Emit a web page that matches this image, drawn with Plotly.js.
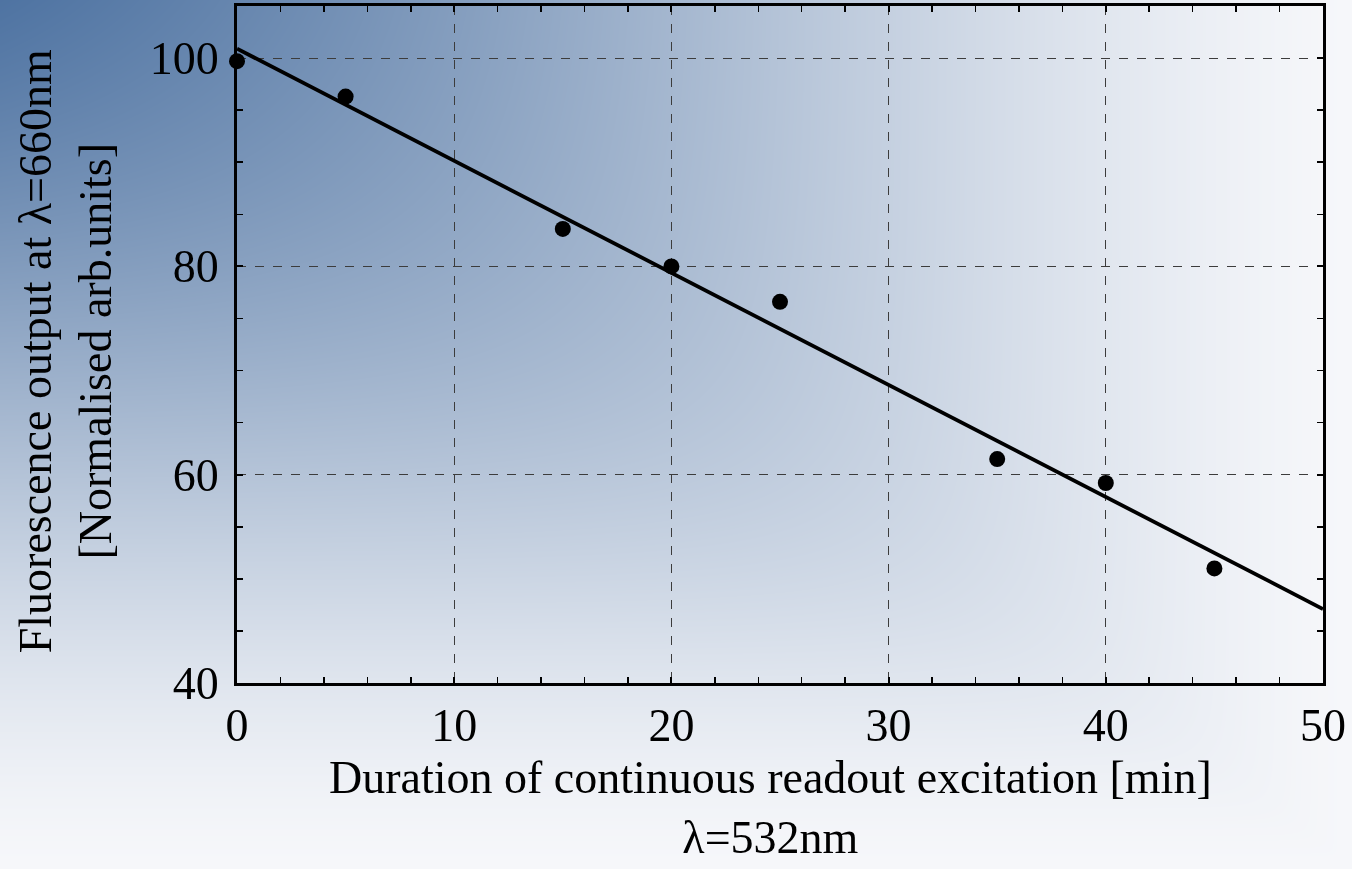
<!DOCTYPE html>
<html>
<head>
<meta charset="utf-8">
<script src="https://cdn.plot.ly/plotly-3.0.1.min.js"></script>
<style>
  html, body { margin:0; padding:0; background:#f6f7fa; }
  #wrap { position:relative; width:1352px; height:869px; overflow:hidden; }
  #bg { position:absolute; left:0; top:0; }
  #chart { position:absolute; left:0; top:0; width:1352px; height:869px; }
</style>
</head>
<body>
<div id="wrap">
  <canvas id="bg" width="1352" height="869"></canvas>
  <div id="chart"></div>
</div>
<script>
// ---- data ----
const durationMin = [0, 5, 15, 20, 25, 35, 40, 45];
const fluorescence = [99.7, 96.3, 83.6, 80.0, 76.6, 61.5, 59.2, 51.0];
const fitX = [0, 50];
const fitY = [100.9, 47.1];
const xTickVals = [0, 10, 20, 30, 40, 50];
const yTickVals = [40, 60, 80, 100];
const xTitle = "Duration of continuous readout excitation [min]<br>λ=532nm";
const yTitle = "Fluorescence output at λ=660nm<br>[Normalised arb.units]";

// ---- decorative background gradient (style only) ----
(function drawBg(){
  const cv = document.getElementById('bg');
  const ctx = cv.getContext('2d');
  const W = cv.width, H = cv.height;
  const img = ctx.createImageData(W, H);
  const light = [246, 247, 250];
  const blue = [35, 81, 139];
  const p = 3;
  for (let y = 0; y < H; y++) {
    const fy = Math.max(1e-4, Math.pow(1 - y / H, 1.45));
    for (let x = 0; x < W; x++) {
      const fx = Math.max(1e-4, Math.pow(1 - x / W, 1.35));
      const w = Math.pow(Math.pow(fx, -p) + Math.pow(fy, -p), -1 / p);
      const i = (y * W + x) * 4;
      img.data[i]   = light[0] + w * (blue[0] - light[0]);
      img.data[i+1] = light[1] + w * (blue[1] - light[1]);
      img.data[i+2] = light[2] + w * (blue[2] - light[2]);
      img.data[i+3] = 255;
    }
  }
  ctx.putImageData(img, 0, 0);
})();

const FONT = 'Liberation Serif, Times New Roman, serif';

const traces = [
  {
    x: fitX, y: fitY, type: 'scatter', mode: 'lines',
    line: { color: '#000', width: 3.8 }, hoverinfo: 'skip', showlegend: false
  },
  {
    x: durationMin, y: fluorescence, type: 'scatter', mode: 'markers',
    marker: { color: '#000', size: 16 }, showlegend: false, cliponaxis: false
  }
];

const axisCommon = {
  showline: true, linecolor: '#000', linewidth: 3, mirror: 'ticks',
  ticks: 'inside', ticklen: 6, tickwidth: 2, tickcolor: '#000',
  showgrid: true, gridcolor: '#3c3c3c', gridwidth: 1, griddash: 'dash',
  zeroline: false,
  tickfont: { family: FONT, size: 46, color: '#000' }
};

const layout = {
  width: 1352, height: 869,
  margin: { l: 237, r: 29, t: 6, b: 186 },
  paper_bgcolor: 'rgba(0,0,0,0)',
  plot_bgcolor: 'rgba(0,0,0,0)',
  showlegend: false,
  xaxis: Object.assign({}, axisCommon, {
    range: [0, 50], tickvals: xTickVals,
    minor: { dtick: 2, tick0: 0, ticks: 'inside', ticklen: 6, tickwidth: 1.5, tickcolor: '#000', showgrid: false }
  }),
  yaxis: Object.assign({}, axisCommon, {
    range: [40, 105], tickvals: yTickVals, ticklabelstandoff: 6,
    minor: { dtick: 5, tick0: 40, ticks: 'inside', ticklen: 6, tickwidth: 1.5, tickcolor: '#000', showgrid: false }
  }),
  annotations: [
    {
      text: xTitle, xref: 'paper', yref: 'paper',
      x: 0.4908, y: -0.1846, xanchor: 'center', yanchor: 'middle',
      showarrow: false, font: { family: FONT, size: 46, color: '#000' }
    },
    {
      text: yTitle, xref: 'paper', yref: 'paper', textangle: -90,
      x: -0.1584, y: 0.49, xanchor: 'center', yanchor: 'middle',
      showarrow: false, font: { family: FONT, size: 46, color: '#000' }
    }
  ]
};

Plotly.newPlot('chart', traces, layout, { displayModeBar: false, staticPlot: true });
</script>
</body>
</html>
